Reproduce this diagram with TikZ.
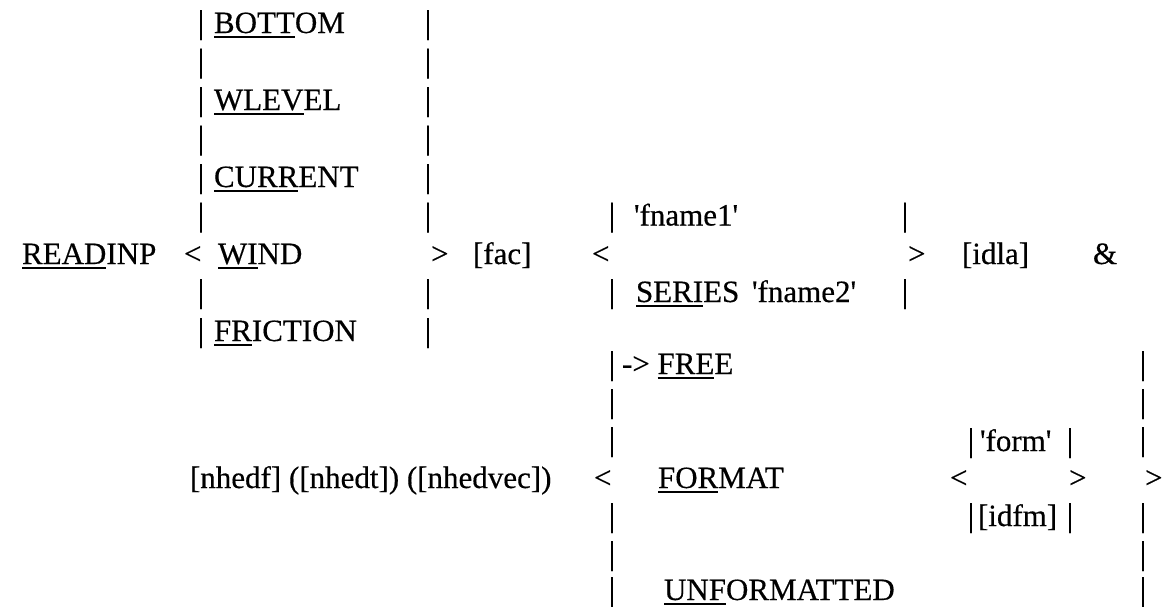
\documentclass[tikz,border=0pt]{standalone}
\usepackage{fontspec}
\newfontfamily\tnr{Liberation Serif}[FakeBold=0.4]
\newcommand{\uln}[1]{\setbox0\hbox{#1}\rlap{\rule[-4.5pt]{\wd0}{1.8pt}}\box0}
\tikzset{
  txt/.style={anchor=base west, inner sep=0pt, outer sep=0pt, font=\tnr\fontsize{31}{37}\selectfont},
  vbar/.style={anchor=base, inner sep=0pt, outer sep=0pt, font=\tnr\fontsize{33}{37}\selectfont},
}
\begin{document}
\begin{tikzpicture}[x=1pt,y=-1pt]
\useasboundingbox (0,0) rectangle (1163,606);
% ---------- top part ----------
\node[txt] (readinp) at (22,264) {\uln{READ}INP};
\node[txt] (lt1) at (184,264) {<};
\foreach \y/\n in {33/a0,71.5/a1,110/a2,148.5/a3,187/a4,225.5/a5,302/a7,341/a8}
  \node[vbar] (lb\n) at (201,\y) {|};
\node[txt] (bottom) at (214,33) {\uln{BOTT}OM};
\node[txt] (wlevel) at (214,110) {\uln{WLEV}EL};
\node[txt] (current) at (214,187) {\uln{CURR}ENT};
\node[txt] (wind) at (218,264) {\uln{WI}ND};
\node[txt] (friction) at (214,341) {\uln{FR}ICTION};
\foreach \y/\n in {33/a0,71.5/a1,110/a2,148.5/a3,187/a4,225.5/a5,302/a7,341/a8}
  \node[vbar] (rb\n) at (428,\y) {|};
\node[txt] (gt1) at (431,264) {>};
\node[txt] (fac) at (473,264) {[fac]};
\node[txt] (lt2) at (592,264) {<};
\node[vbar] (fb1) at (612,225.5) {|};
\node[vbar] (fb2) at (612,302) {|};
\node[txt] (fname1) at (634,225.5) {'fname1'};
\node[txt] (series) at (636,302) {\uln{SERI}ES};
\node[txt] (fname2) at (752,302) {'fname2'};
\node[vbar] (fb3) at (905,225.5) {|};
\node[vbar] (fb4) at (905,302) {|};
\node[txt] (gt2) at (908,264) {>};
\node[txt] (idla) at (962,264) {[idla]};
\node[txt] (amp) at (1093,264) {\&};
% ---------- bottom part ----------
\node[txt] (nhed) at (190,488) {[nhedf] ([nhedt]) ([nhedvec])};
\node[txt] (lt3) at (594,488) {<};
\foreach \y/\n in {374/m0,412/m1,450/m2,526/m4,564/m5,600/m6}
  \node[vbar] (bl\n) at (612,\y) {|};
\node[txt] (free) at (622,374) {-> \uln{FRE}E};
\node[txt] (format) at (658,488) {\uln{FOR}MAT};
\node[txt] (unf) at (664,600) {\uln{UNF}ORMATTED};
\node[txt] (lt4) at (950,488) {<};
\node[vbar] (ib1) at (971,451) {|};
\node[vbar] (ib2) at (971,526) {|};
\node[txt] (form) at (980,451) {'form'};
\node[txt] (idfm) at (978,526) {[idfm]};
\node[vbar] (ib3) at (1070,451) {|};
\node[vbar] (ib4) at (1070,526) {|};
\node[txt] (gt3) at (1069,488) {>};
\foreach \y/\n in {374/m0,412/m1,450/m2,526/m4,564/m5,600/m6}
  \node[vbar] (br\n) at (1143,\y) {|};
\node[txt] (gt4) at (1145,488) {>};
\end{tikzpicture}
\end{document}
